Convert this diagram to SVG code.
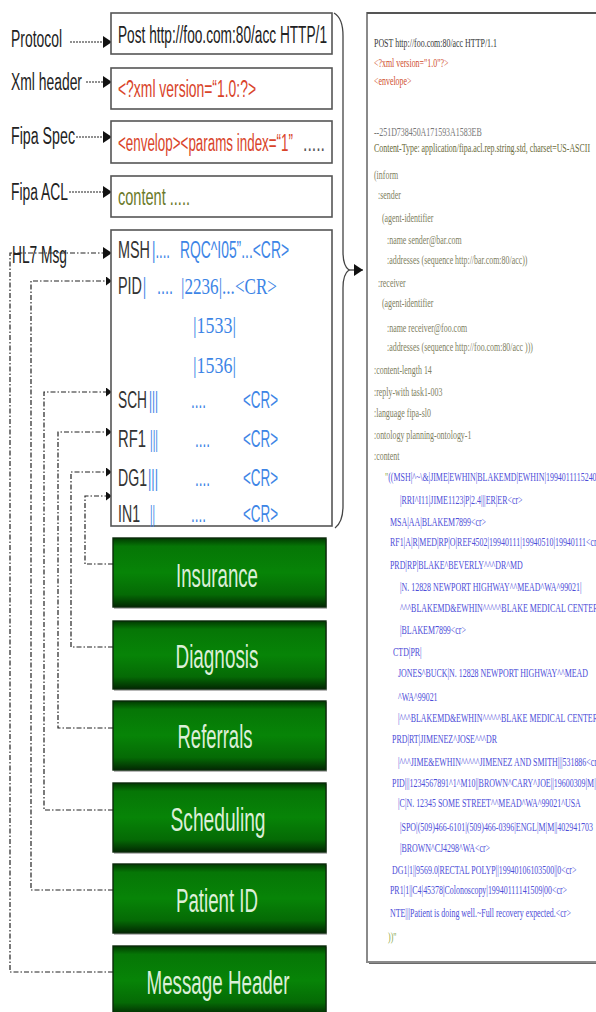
<svg xmlns="http://www.w3.org/2000/svg" width="596" height="1012" viewBox="0 0 596 1012">
  <defs>
    <linearGradient id="greenFill" x1="0" y1="0" x2="0" y2="1">
      <stop offset="0" stop-color="#013a01"/>
      <stop offset="0.12" stop-color="#067606"/>
      <stop offset="0.5" stop-color="#078407"/>
      <stop offset="0.82" stop-color="#056a05"/>
      <stop offset="1" stop-color="#022802"/>
    </linearGradient>
    <marker id="headBig" markerUnits="userSpaceOnUse" markerWidth="10" markerHeight="12" refX="9" refY="6" orient="auto">
      <path d="M0,0 L9,6 L0,12 z" fill="#111"/>
    </marker>
    <marker id="headSmall" markerUnits="userSpaceOnUse" markerWidth="7" markerHeight="9" refX="6" refY="4.5" orient="auto">
      <path d="M0,0 L6,4.5 L0,9 z" fill="#111"/>
    </marker>
    <style>
      .lbl { font-family: "Liberation Sans", Arial, sans-serif; font-size: 23px; fill: #222; }
      .box { fill: #fff; stroke: #555; stroke-width: 1.6; }
      .seg { font-family: "Liberation Sans", Arial, sans-serif; font-size: 24px; fill: #333; }
      .fld { font-family: "Liberation Sans", Arial, sans-serif; font-size: 24px; fill: #3d85e6; }
      .fldS { font-family: "Liberation Serif", "Times New Roman", serif; font-size: 24px; fill: #3d85e6; }
      .gbox { fill: url(#greenFill); stroke: #0b2a0b; stroke-width: 1.4; }
      .gshadow { fill: #b8b8b8; }
      .gtxt { font-family: "Liberation Sans", Arial, sans-serif; font-size: 34px; fill: #dcefd8; text-anchor: middle; }
      .dot { fill: none; stroke: #222; stroke-width: 1.2; stroke-dasharray: 2 1; }
      .dash { fill: none; stroke: #222; stroke-width: 1.2; stroke-dasharray: 5 2 1.5 2; }
      .mono { font-family: "Liberation Serif", "Times New Roman", serif; font-size: 13px; }
      .k { fill: #3a3a3a; }
      .r { fill: #d05030; }
      .g { fill: #777; }
      .o { fill: #6a6a3a; }
      .a { fill: #80805f; }
      .b { fill: #4d4dd8; }
      .q { fill: #8aa84a; }
    </style>
  </defs>

  <!-- connectors -->
  <g id="connectors">
    <line class="dot" x1="70" y1="42" x2="112" y2="42" marker-end="url(#headBig)"/>
    <line class="dot" x1="86" y1="82" x2="112" y2="82" marker-end="url(#headBig)"/>
    <line class="dot" x1="76" y1="137" x2="112" y2="137" marker-end="url(#headBig)"/>
    <line class="dot" x1="69" y1="192" x2="112" y2="192" marker-end="url(#headBig)"/>
    <path class="dash" d="M113,972 H10 V253 H112" marker-end="url(#headBig)"/>
    <path class="dash" d="M113,890 H31 V281 H112" marker-end="url(#headSmall)"/>
    <path class="dash" d="M113,810 H44 V392 H112" marker-end="url(#headSmall)"/>
    <path class="dash" d="M113,728 H58 V432 H112" marker-end="url(#headSmall)"/>
    <path class="dash" d="M113,647 H71 V472 H112" marker-end="url(#headSmall)"/>
    <path class="dash" d="M113,564 H85 V496 H112" marker-end="url(#headSmall)"/>
    <!-- brace gathering the message parts -->
    <path d="M334,13 Q343,18 343,36 V252 Q343,266 349,270 Q343,274 343,288 V506 Q343,522 335,528" fill="none" stroke="#444" stroke-width="1.3"/>
    <line x1="349" y1="270" x2="363" y2="270" stroke="#444" stroke-width="1.3" marker-end="url(#headBig)"/>
  </g>

  <!-- left labels -->
  <g id="labels">
    <text class="lbl" x="11" y="47" textLength="51" lengthAdjust="spacingAndGlyphs">Protocol</text>
    <text class="lbl" x="11" y="90" textLength="71" lengthAdjust="spacingAndGlyphs">Xml header</text>
    <text class="lbl" x="11" y="144" textLength="64" lengthAdjust="spacingAndGlyphs">Fipa Spec</text>
    <text class="lbl" x="11" y="200" textLength="57" lengthAdjust="spacingAndGlyphs">Fipa ACL</text>
    <text class="lbl" x="12" y="263" textLength="55" lengthAdjust="spacingAndGlyphs">HL7 Msg</text>
  </g>

  <g id="protocol">
    <rect class="box" x="111" y="13" width="221" height="41"/>
    <text class="lbl" x="118" y="43" font-size="25" fill="#111" textLength="209" lengthAdjust="spacingAndGlyphs">Post http://foo.com:80/acc HTTP/1</text>
  </g>
  <g id="xml-header">
    <rect class="box" x="111" y="68" width="221" height="41"/>
    <text class="lbl" x="118" y="97" font-size="24" style="fill:#d9442a" textLength="138" lengthAdjust="spacingAndGlyphs">&lt;?xml version=“1.0:?&gt;</text>
  </g>
  <g id="fipa-spec">
    <rect class="box" x="111" y="121" width="221" height="42"/>
    <text class="lbl" x="118" y="151" font-size="24" style="fill:#d9442a" textLength="175" lengthAdjust="spacingAndGlyphs">&lt;envelop&gt;&lt;params index=“1”</text>
    <text class="lbl" x="303" y="151" font-size="24" style="fill:#555" textLength="22" lengthAdjust="spacingAndGlyphs">.....</text>
  </g>
  <g id="fipa-acl">
    <rect class="box" x="111" y="176" width="221" height="41"/>
    <text class="lbl" x="118" y="205" font-size="24" style="fill:#6b7a2a" textLength="72" lengthAdjust="spacingAndGlyphs">content .....</text>
  </g>

  <g id="hl7-msg">
    <rect class="box" x="111" y="230" width="221" height="296"/>
    <text class="seg" x="118" y="258" textLength="32" lengthAdjust="spacingAndGlyphs">MSH</text>
    <text class="fld" x="152" y="258" textLength="18" lengthAdjust="spacingAndGlyphs">|....</text>
    <text class="fld" x="180" y="258" textLength="109" lengthAdjust="spacingAndGlyphs">RQC^I05”...&lt;CR&gt;</text>

    <text class="seg" x="118" y="294" textLength="24" lengthAdjust="spacingAndGlyphs">PID</text>
    <text class="fld" x="143" y="294" textLength="3" lengthAdjust="spacingAndGlyphs">|</text>
    <text class="fld" x="157" y="294" textLength="16" lengthAdjust="spacingAndGlyphs">....</text>
    <text class="fldS" x="181" y="294" textLength="96" lengthAdjust="spacingAndGlyphs">|2236|...&lt;CR&gt;</text>
    <text class="fldS" x="193" y="333" textLength="43" lengthAdjust="spacingAndGlyphs">|1533|</text>
    <text class="fldS" x="193" y="373" textLength="43" lengthAdjust="spacingAndGlyphs">|1536|</text>

    <text class="seg" x="118" y="408" textLength="29" lengthAdjust="spacingAndGlyphs">SCH</text>
    <text class="fld" x="149" y="408" textLength="9" lengthAdjust="spacingAndGlyphs">|||</text>
    <text class="fld" x="191" y="408" textLength="15" lengthAdjust="spacingAndGlyphs">....</text>
    <text class="fld" x="243" y="408" textLength="35" lengthAdjust="spacingAndGlyphs">&lt;CR&gt;</text>

    <text class="seg" x="118" y="447" textLength="28" lengthAdjust="spacingAndGlyphs">RF1</text>
    <text class="fld" x="150" y="447" textLength="8" lengthAdjust="spacingAndGlyphs">|||</text>
    <text class="fld" x="195" y="447" textLength="15" lengthAdjust="spacingAndGlyphs">....</text>
    <text class="fld" x="243" y="447" textLength="35" lengthAdjust="spacingAndGlyphs">&lt;CR&gt;</text>

    <text class="seg" x="118" y="486" textLength="29" lengthAdjust="spacingAndGlyphs">DG1</text>
    <text class="fld" x="148" y="486" textLength="10" lengthAdjust="spacingAndGlyphs">|||</text>
    <text class="fld" x="195" y="486" textLength="15" lengthAdjust="spacingAndGlyphs">....</text>
    <text class="fld" x="243" y="486" textLength="35" lengthAdjust="spacingAndGlyphs">&lt;CR&gt;</text>

    <text class="seg" x="118" y="522" textLength="22" lengthAdjust="spacingAndGlyphs">IN1</text>
    <text class="fld" x="150" y="522" textLength="5" lengthAdjust="spacingAndGlyphs">||</text>
    <text class="fld" x="191" y="522" textLength="15" lengthAdjust="spacingAndGlyphs">....</text>
    <text class="fld" x="243" y="522" textLength="35" lengthAdjust="spacingAndGlyphs">&lt;CR&gt;</text>
  </g>

  <!-- segment category boxes -->
  <g id="insurance">
    <rect class="gshadow" x="114" y="539" width="213" height="70"/>
    <rect class="gbox" x="113" y="538" width="213" height="69"/>
    <text class="gtxt" x="217" y="587" textLength="82" lengthAdjust="spacingAndGlyphs">Insurance</text>
  </g>
  <g id="diagnosis">
    <rect class="gshadow" x="114" y="622" width="213" height="69"/>
    <rect class="gbox" x="113" y="621" width="213" height="68"/>
    <text class="gtxt" x="217" y="668" textLength="83" lengthAdjust="spacingAndGlyphs">Diagnosis</text>
  </g>
  <g id="referrals">
    <rect class="gshadow" x="114" y="702" width="213" height="70"/>
    <rect class="gbox" x="113" y="701" width="213" height="69"/>
    <text class="gtxt" x="215" y="748" textLength="75" lengthAdjust="spacingAndGlyphs">Referrals</text>
  </g>
  <g id="scheduling">
    <rect class="gshadow" x="114" y="784" width="213" height="70"/>
    <rect class="gbox" x="113" y="783" width="213" height="69"/>
    <text class="gtxt" x="218" y="831" textLength="95" lengthAdjust="spacingAndGlyphs">Scheduling</text>
  </g>
  <g id="patient-id">
    <rect class="gshadow" x="114" y="865" width="213" height="70"/>
    <rect class="gbox" x="113" y="864" width="213" height="69"/>
    <text class="gtxt" x="217" y="912" textLength="82" lengthAdjust="spacingAndGlyphs">Patient ID</text>
  </g>
  <g id="message-header">
    <rect class="gshadow" x="114" y="947" width="213" height="70"/>
    <rect class="gbox" x="113" y="946" width="213" height="69"/>
    <text class="gtxt" x="218" y="994" textLength="143" lengthAdjust="spacingAndGlyphs">Message Header</text>
  </g>

  <!-- full message listing -->
  <g id="message-listing">
    <rect x="369" y="15" width="240" height="949" fill="#6a6a6a"/>
    <rect x="367" y="13" width="240" height="949" fill="#fff" stroke="#8a8a8a" stroke-width="2"/>
    <line x1="367" y1="13" x2="596" y2="13" stroke="#555" stroke-width="2"/>
    <g class="mono" transform="scale(0.61,1)">
      <text class="k" x="613.1" y="47">POST http://foo.com:80/acc HTTP/1.1</text>
      <text class="r" x="613.1" y="67">&lt;?xml version="1.0"?&gt;</text>
      <text class="r" x="613.1" y="85">&lt;envelope&gt;</text>
      <text class="g" x="613.1" y="136">--251D738450A171593A1583EB</text>
      <text class="o" x="613.1" y="152">Content-Type: application/fipa.acl.rep.string.std, charset=US-ASCII</text>
      <text class="a" x="613.1" y="179">(inform</text>
      <text class="a" x="619.7" y="199">:sender</text>
      <text class="a" x="626.2" y="222">(agent-identifier</text>
      <text class="a" x="634.4" y="244">:name sender@bar.com</text>
      <text class="a" x="634.4" y="264">:addresses (sequence http://bar.com:80/acc))</text>
      <text class="a" x="619.7" y="287">:receiver</text>
      <text class="a" x="626.2" y="307">(agent-identifier</text>
      <text class="a" x="634.4" y="332">:name receiver@foo.com</text>
      <text class="a" x="634.4" y="351">:addresses (sequence http://foo.com:80/acc )))</text>
      <text class="a" x="613.1" y="374">:content-length 14</text>
      <text class="a" x="613.1" y="396">:reply-with task1-003</text>
      <text class="a" x="613.1" y="417">:language fipa-sl0</text>
      <text class="a" x="613.1" y="439">:ontology planning-ontology-1</text>
      <text class="a" x="613.1" y="460">:content</text>
      <text x="631.1" y="481"><tspan class="q">"</tspan><tspan class="b">((MSH|^~\&amp;|JIME|EWHIN|BLAKEMD|EWHIN|19940111152401</tspan></text>
      <text class="b" x="655.7" y="504">|RRI^I11|JIME1123|P|2.4|||ER|ER&lt;cr&gt;</text>
      <text class="b" x="639.3" y="526">MSA|AA|BLAKEM7899&lt;cr&gt;</text>
      <text class="b" x="639.3" y="546">RF1|A|R|MED|RP|O|REF4502|19940111|19940510|19940111&lt;cr&gt;</text>
      <text class="b" x="639.3" y="569">PRD|RP|BLAKE^BEVERLY^^^DR^MD</text>
      <text class="b" x="655.7" y="591">|N. 12828 NEWPORT HIGHWAY^^MEAD^WA^99021|</text>
      <text class="b" x="655.7" y="612">^^^BLAKEMD&amp;EWHIN^^^^^BLAKE MEDICAL CENTER</text>
      <text class="b" x="655.7" y="634">|BLAKEM7899&lt;cr&gt;</text>
      <text class="b" x="644.3" y="656">CTD|PR|</text>
      <text class="b" x="652.5" y="677">JONES^BUCK|N. 12828 NEWPORT HIGHWAY^^MEAD</text>
      <text class="b" x="652.5" y="701">^WA^99021</text>
      <text class="b" x="652.5" y="722">|^^^BLAKEMD&amp;EWHIN^^^^^BLAKE MEDICAL CENTER</text>
      <text class="b" x="642.6" y="743">PRD|RT|JIMENEZ^JOSE^^^DR</text>
      <text class="b" x="652.5" y="766">|^^^JIME&amp;EWHIN^^^^^JIMENEZ AND SMITH|||531886&lt;cr&gt;</text>
      <text class="b" x="642.6" y="787">PID|||1234567891^1^M10||BROWN^CARY^JOE||19600309|M|</text>
      <text class="b" x="652.5" y="807">|C|N. 12345 SOME STREET^^MEAD^WA^99021^USA</text>
      <text class="b" x="655.7" y="831">|SPO|(509)466-6101|(509)466-0396|ENGL|M|M||402941703</text>
      <text class="b" x="655.7" y="852">|BROWN^CJ4298^WA&lt;cr&gt;</text>
      <text class="b" x="642.6" y="874">DG1|1||9569.0|RECTAL POLYP||19940106103500||0&lt;cr&gt;</text>
      <text class="b" x="639.3" y="894">PR1|1||C4|45378|Colonoscopy|19940111141509|00&lt;cr&gt;</text>
      <text class="b" x="639.3" y="917">NTE|||Patient is doing well.~Full recovery expected.&lt;cr&gt;</text>
      <text class="q" x="636.1" y="941">))"</text>
    </g>
  </g>
</svg>
